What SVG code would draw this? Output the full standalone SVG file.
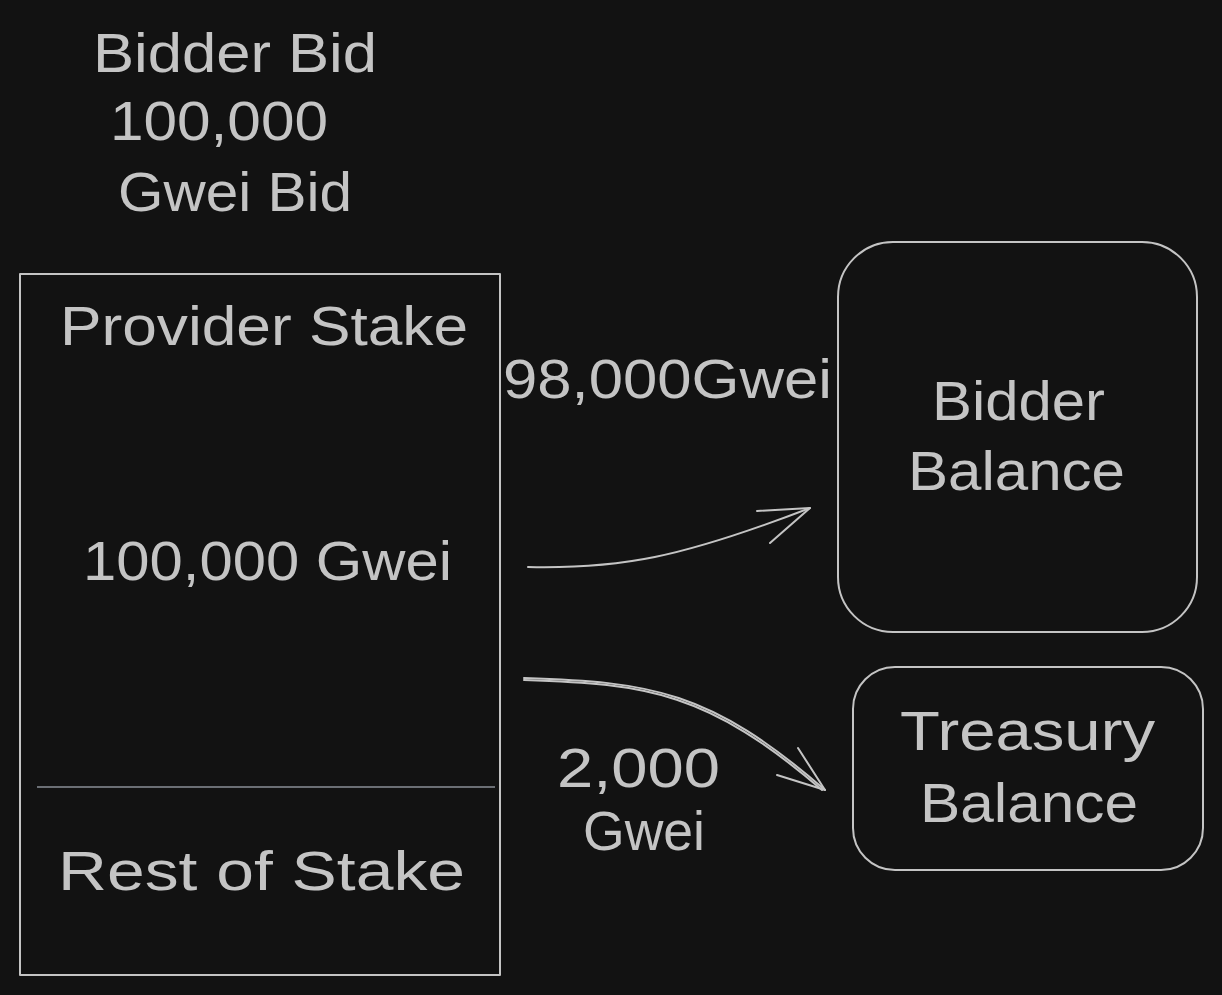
<svg xmlns="http://www.w3.org/2000/svg" width="1222" height="995" viewBox="0 0 1222 995">
<style>
.t{font-family:"Liberation Sans",Arial,sans-serif;font-size:56px;fill:#c4c4c4}
.s{fill:none;stroke:#c4c4c4;stroke-width:2;stroke-linecap:round;stroke-linejoin:round}
.d{fill:none;stroke:#6b6f75;stroke-width:2}
</style>
<rect x="0" y="0" width="1222" height="995" fill="#121212"/>
<g id="bid-label">
<text class="t" x="93" y="72" textLength="284" lengthAdjust="spacingAndGlyphs">Bidder Bid</text>
<text class="t" x="110" y="140" textLength="218" lengthAdjust="spacingAndGlyphs">100,000</text>
<text class="t" x="118" y="211" textLength="234" lengthAdjust="spacingAndGlyphs">Gwei Bid</text>
</g>
<g id="provider-stake">
<rect class="s" x="20" y="274" width="480" height="701"/>
<line class="d" x1="37" y1="787" x2="495" y2="787"/>
<text class="t" x="60" y="345" textLength="408" lengthAdjust="spacingAndGlyphs">Provider Stake</text>
<text class="t" x="83" y="580" textLength="369" lengthAdjust="spacingAndGlyphs">100,000 Gwei</text>
<text class="t" x="58" y="890" textLength="407" lengthAdjust="spacingAndGlyphs">Rest of Stake</text>
</g>
<g id="bidder-balance">
<rect class="s" x="838" y="242" width="359" height="390" rx="55" ry="55"/>
<text class="t" x="932" y="420" textLength="173" lengthAdjust="spacingAndGlyphs">Bidder</text>
<text class="t" x="908" y="490" textLength="217" lengthAdjust="spacingAndGlyphs">Balance</text>
</g>
<g id="treasury-balance">
<rect class="s" x="853" y="667" width="350" height="203" rx="42" ry="42"/>
<text class="t" x="900" y="750" textLength="255" lengthAdjust="spacingAndGlyphs">Treasury</text>
<text class="t" x="920" y="822" textLength="218" lengthAdjust="spacingAndGlyphs">Balance</text>
</g>
<g id="connectors">
<path class="s" d="M528 567 C620 569 680 558 810 508"/>
<path class="s" d="M757 511 L810 508 L770 543"/>
<path class="s" d="M524 678 C650 682 710 690 825 790"/>
<path class="s" d="M524 680 C648 684 708 692 822 790" stroke-width="1"/>
<path class="s" d="M798 748 L825 790 L777 775"/>
<text class="t" x="503" y="398" textLength="329" lengthAdjust="spacingAndGlyphs">98,000Gwei</text>
<text class="t" x="557" y="787" textLength="163" lengthAdjust="spacingAndGlyphs">2,000</text>
<text class="t" x="583" y="850" textLength="122" lengthAdjust="spacingAndGlyphs">Gwei</text>
</g>
</svg>
